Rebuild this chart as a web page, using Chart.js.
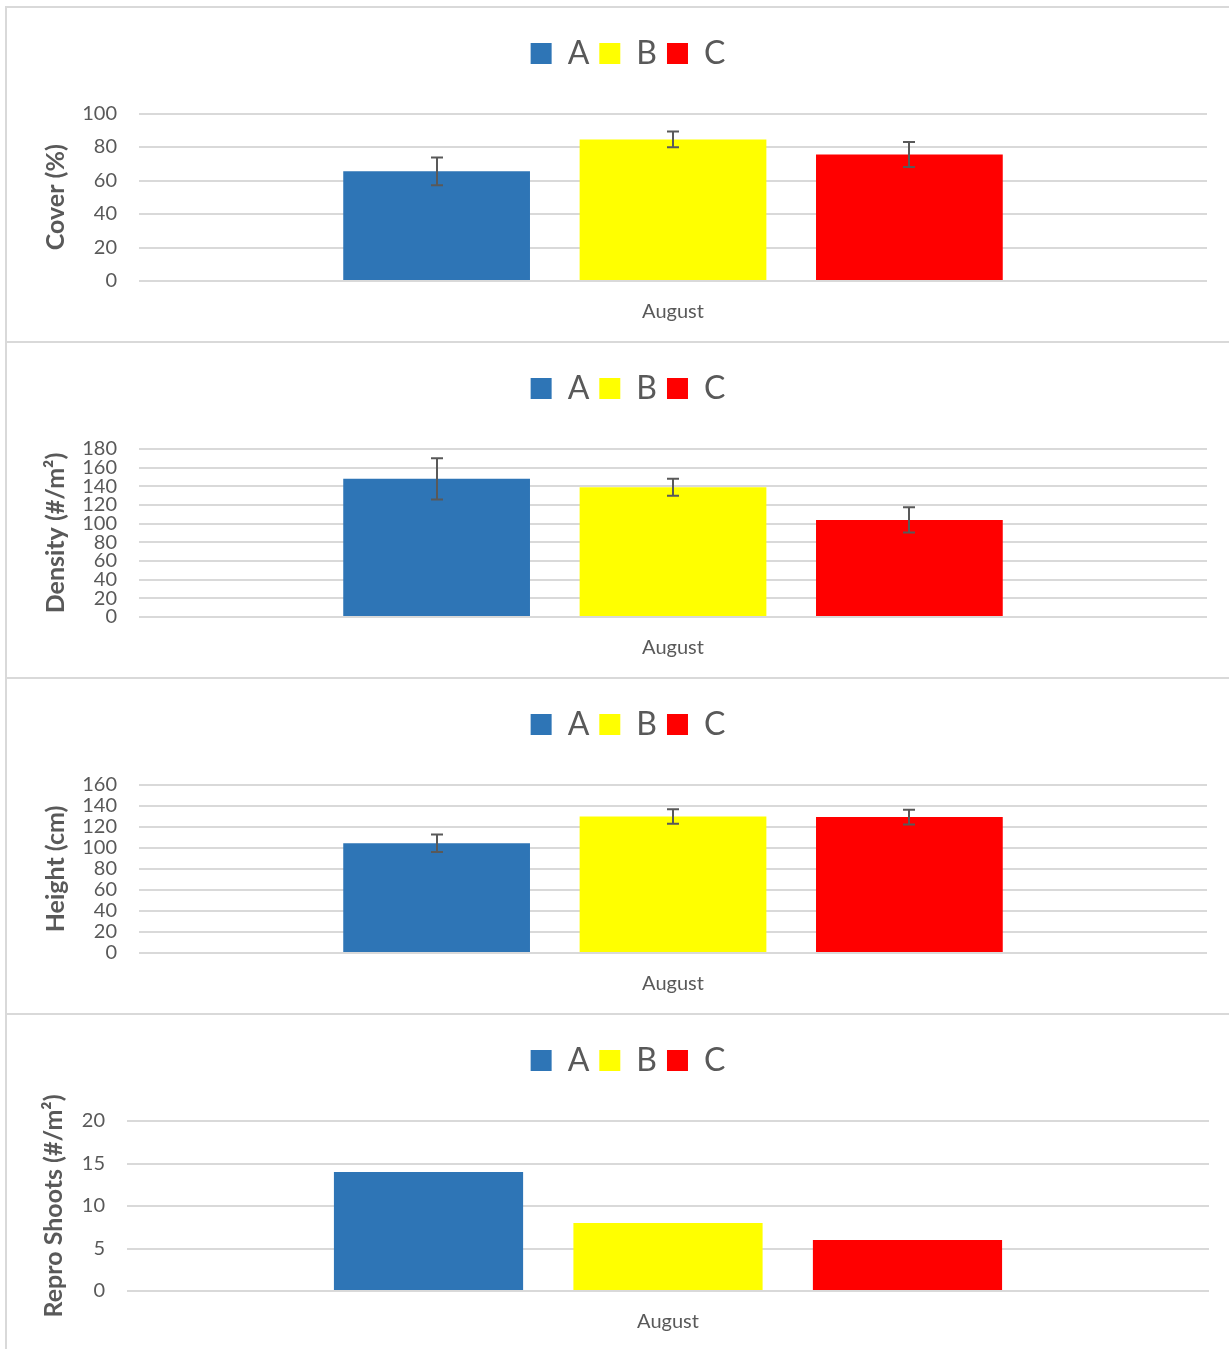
<!DOCTYPE html>
<html><head><meta charset="utf-8">
<script src="https://cdn.jsdelivr.net/npm/chart.js@4.4.1/dist/chart.umd.min.js"></script>
<style>
html,body{margin:0;padding:0;background:#fff;overflow:hidden;width:1229px;height:1349px;}
.panel{position:absolute;left:7px;}
.hline{position:absolute;left:5px;width:1224px;height:2px;background:#d9d9d9;}
.vline{position:absolute;left:5px;top:7px;width:2px;height:1342px;background:#d9d9d9;}
</style></head><body>
<div class="vline"></div>
<div class="hline" style="top:6px"></div>
<div class="hline" style="top:341px"></div>
<div class="hline" style="top:677px"></div>
<div class="hline" style="top:1013px"></div>
<canvas id="c1" class="panel" width="1242" height="332" style="top:9px"></canvas>
<canvas id="c2" class="panel" width="1242" height="332" style="top:344px"></canvas>
<canvas id="c3" class="panel" width="1242" height="332" style="top:680px"></canvas>
<canvas id="c4" class="panel" width="1242" height="333" style="top:1016px"></canvas>
<script>
// ---- data ----
const categories = ['August'];
const seriesNames = ['A', 'B', 'C'];
const seriesColors = ['#2E75B6', '#FFFF00', '#FF0000'];

const coverMeans = [65.5, 84.5, 75.5];
const coverErrors = [8.3, 4.7, 7.5];
const coverTicks = [0, 20, 40, 60, 80, 100];

const densityMeans = [148, 139, 104];
const densityErrors = [22, 9, 13.5];
const densityTicks = [0, 20, 40, 60, 80, 100, 120, 140, 160, 180];

const heightMeans = [104.5, 130, 129.5];
const heightErrors = [8.3, 7, 7];
const heightTicks = [0, 20, 40, 60, 80, 100, 120, 140, 160];

const reproMeans = [14, 8, 6];
const reproTicks = [0, 5, 10, 15, 20];

// ---- drawing ----
Chart.defaults.font.family = 'Lato';
Chart.defaults.color = '#595959';

const errorBarPlugin = {
  id: 'errorBars',
  afterDatasetsDraw(chart, args, opts) {
    const errs = opts && opts.errors;
    if (!errs) return;
    const ctx = chart.ctx, ys = chart.scales.y;
    ctx.save();
    ctx.strokeStyle = '#595959';
    ctx.lineWidth = 2;
    chart.data.datasets.forEach((ds, di) => {
      const meta = chart.getDatasetMeta(di);
      meta.data.forEach((bar, i) => {
        const v = ds.data[i], e = errs[di];
        const yt = ys.getPixelForValue(v + e), yb = ys.getPixelForValue(v - e);
        const x = Math.round(bar.x);
        ctx.beginPath();
        ctx.moveTo(x, yt); ctx.lineTo(x, yb);
        ctx.moveTo(x - 6, yt); ctx.lineTo(x + 6, yt);
        ctx.moveTo(x - 6, yb); ctx.lineTo(x + 6, yb);
        ctx.stroke();
      });
    });
    ctx.restore();
  }
};

function makeChart(id, means, errors, ticks, title, geo) {
  const datasets = seriesNames.map((name, i) => ({
    label: name,
    data: [means[i]],
    backgroundColor: seriesColors[i],
    borderWidth: 0,
    categoryPercentage: 0.664,
    barPercentage: 0.79
  }));
  return new Chart(document.getElementById(id), {
    type: 'bar',
    data: { labels: categories, datasets },
    plugins: [errorBarPlugin],
    options: {
      responsive: false,
      animation: false,
      devicePixelRatio: 1,
      layout: { padding: { top: geo.padTop, left: geo.padSide, right: geo.padSide, bottom: 0 } },
      plugins: {
        tooltip: { enabled: false },
        legend: {
          position: 'top',
          labels: { boxWidth: 21, boxHeight: 21, padding: 10, color: '#595959', font: { size: 32 } }
        },
        subtitle: { display: true, text: '', weight: 500, font: { size: 1, lineHeight: 1 }, padding: { top: geo.spacer, bottom: 0 } },
        errorBars: { errors }
      },
      scales: {
        x: {
          grid: { display: false },
          border: { display: false },
          ticks: { padding: 11, font: { size: 20 }, color: '#595959' },
          afterFit(s) { s.height = geo.xH; }
        },
        y: {
          min: ticks[0],
          max: ticks[ticks.length - 1],
          afterBuildTicks(s) { s.ticks = ticks.map(v => ({ value: v })); },
          grid: { color: '#d9d9d9', lineWidth: 2, drawTicks: false },
          border: { display: false },
          ticks: { padding: 22, autoSkip: false, font: { size: 20 }, color: '#595959' },
          title: { display: true, text: title, color: '#595959', font: { size: 25, weight: 'bold' }, padding: { top: -8, bottom: 0 } },
          afterFit(s) { s.width = geo.yW; }
        }
      }
    }
  });
}

const geoCover = { padTop: 18.5, padSide: 42, yW: 90, xH: 60, spacer: 33 };
const geoStd = { padTop: 18.5, padSide: 42, yW: 90, xH: 59, spacer: 33.5 };
const geoRepro = { padTop: 18.5, padSide: 40, yW: 80, xH: 58, spacer: 33.5 };

makeChart('c1', coverMeans, coverErrors, coverTicks, 'Cover (%)', geoCover);
makeChart('c2', densityMeans, densityErrors, densityTicks, 'Density (#/m²)', geoStd);
makeChart('c3', heightMeans, heightErrors, heightTicks, 'Height (cm)', geoStd);
makeChart('c4', reproMeans, null, reproTicks, 'Repro Shoots (#/m²)', geoRepro);
</script>
</body></html>
